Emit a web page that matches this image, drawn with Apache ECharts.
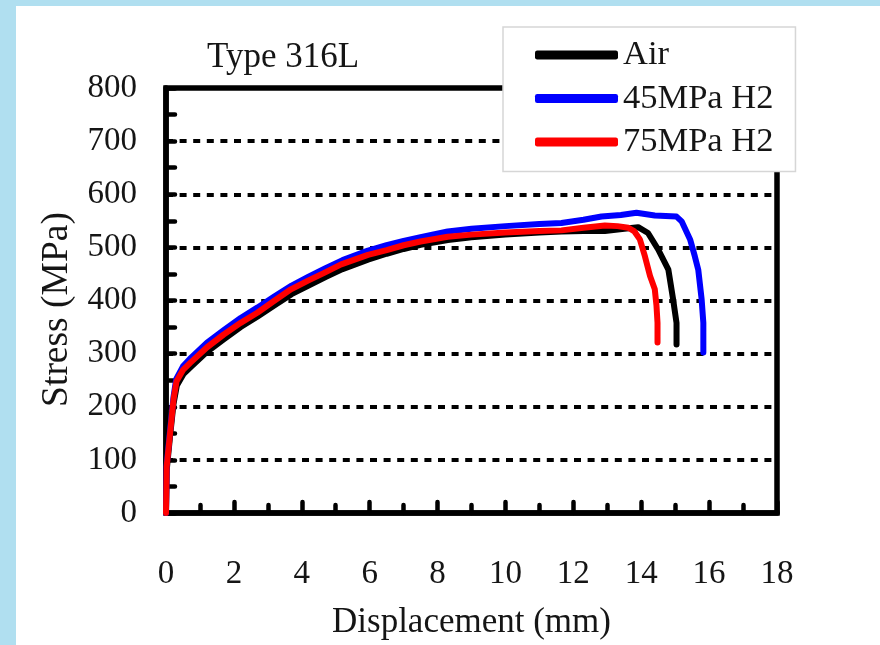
<!DOCTYPE html>
<html>
<head>
<meta charset="utf-8">
<script src="https://cdn.jsdelivr.net/npm/echarts@6/dist/echarts.min.js"></script>
<style>
  html, body { margin: 0; padding: 0; }
  body { width: 880px; height: 645px; background: #b0dff0; position: relative; overflow: hidden; }
  #sheet { position: absolute; left: 16px; top: 6px; width: 864px; height: 639px; background: #ffffff; }
  #chart { position: absolute; left: 0; top: 0; width: 880px; height: 645px; }
</style>
</head>
<body>
<div id="sheet"></div>
<div id="chart"></div>
<script>
// Tensile curves of Type 316L: [displacement (mm), stress (MPa)]
const seriesNames = ['Air', '45MPa H2', '75MPa H2'];
const seriesColors = ['#000000', '#0000ff', '#ff0000'];

const airCurve = [
  [0, 0], [0.02, 80], [0.12, 145], [0.22, 205], [0.32, 240], [0.52, 262], [0.75, 276],
  [1.2, 303], [1.7, 327], [2.2, 350], [2.7, 370], [3.2, 391], [3.7, 412], [4.2, 428],
  [4.7, 444], [5.2, 459], [5.95, 477], [6.5, 488], [7, 497], [7.5, 505], [8.3, 514],
  [9, 519], [10, 524], [11, 528], [11.65, 530], [12.3, 531], [12.93, 531], [13.5, 535],
  [13.91, 538], [14.2, 527], [14.5, 496], [14.8, 458], [14.94, 402], [15.04, 358], [15.04, 317]
];

const h2At45Curve = [
  [0, 0], [0.02, 90], [0.12, 155], [0.22, 218], [0.3, 252], [0.5, 276], [0.7, 290],
  [1.2, 320], [1.7, 344], [2.2, 367], [2.7, 387], [3.2, 408], [3.7, 428], [4.2, 445],
  [4.7, 461], [5.2, 476], [5.95, 494], [6.5, 504], [7, 512], [7.5, 519], [8.3, 530],
  [9, 535], [10, 540], [11, 544], [11.65, 546], [12.3, 552], [12.83, 558], [13.4, 561],
  [13.86, 565], [14.4, 560], [15.04, 558], [15.19, 549], [15.44, 515], [15.58, 483],
  [15.68, 458], [15.78, 402], [15.83, 358], [15.83, 302]
];

const h2At75Curve = [
  [0, 0], [0.02, 87], [0.12, 150], [0.22, 213], [0.31, 248], [0.51, 270], [0.72, 283],
  [1.21, 312], [1.7, 336], [2.2, 358], [2.69, 377], [3.18, 399], [3.68, 421], [4.17, 437],
  [4.66, 452], [5.16, 468], [5.95, 486], [6.5, 495], [7, 504], [7.5, 511], [8.3, 520],
  [9, 524], [10, 528], [11, 531], [11.65, 532], [12.3, 537], [12.93, 541], [13.3, 540],
  [13.62, 537], [13.8, 530], [13.96, 515], [14.11, 483], [14.26, 446], [14.4, 421],
  [14.45, 390], [14.48, 358], [14.48, 321]
];

const curves = [airCurve, h2At45Curve, h2At75Curve];

const xTicks = { min: 0, max: 18, step: 2 };
const yTicks = { min: 0, max: 800, step: 100 };

const serif = '"Liberation Serif", "Times New Roman", serif';
const ink = '#151515';

const chart = echarts.init(document.getElementById('chart'), null, { renderer: 'canvas' });

const tickStyle = { color: '#000', width: 4.5, cap: 'round' };

chart.setOption({
  animation: false,
  backgroundColor: 'transparent',
  color: seriesColors,
  title: {
    text: 'Type 316L',
    left: 207,
    top: 40,
    padding: 0,
    textStyle: { fontFamily: serif, fontSize: 35, fontWeight: 'normal', color: ink }
  },
  legend: {
    data: seriesNames.map(n => ({ name: n, icon: 'roundRect' })),
    orient: 'vertical',
    left: 503,
    top: 27,
    padding: [10.5, 22, 12, 32],
    itemWidth: 83,
    itemHeight: 9,
    itemGap: 8.5,
    backgroundColor: '#ffffff',
    borderColor: '#d6d6d6',
    borderWidth: 1.5,
    borderRadius: 0,
    selectedMode: false,
    textStyle: { fontFamily: serif, fontSize: 34.5, lineHeight: 33, color: ink },
    z: 10
  },
  grid: {
    left: 166,
    right: 103,
    top: 88,
    bottom: 132,
    show: true,
    borderColor: '#000',
    borderWidth: 5.5,
    backgroundColor: 'transparent'
  },
  xAxis: {
    type: 'value',
    min: xTicks.min,
    max: xTicks.max,
    interval: xTicks.step,
    name: 'Displacement (mm)',
    nameLocation: 'middle',
    nameGap: 92,
    nameTextStyle: { fontFamily: serif, fontSize: 35, color: ink },
    axisLine: { show: true, lineStyle: { color: '#000', width: 5.5 } },
    axisTick: { show: true, inside: true, length: 11, lineStyle: tickStyle },
    minorTick: { show: true, splitNumber: 2, length: 8, lineStyle: tickStyle },
    axisLabel: { margin: 45, fontFamily: serif, fontSize: 33, color: ink },
    splitLine: { show: false }
  },
  yAxis: {
    type: 'value',
    min: yTicks.min,
    max: yTicks.max,
    interval: yTicks.step,
    name: 'Stress (MPa)',
    nameLocation: 'middle',
    nameGap: 89,
    nameTextStyle: { fontFamily: serif, fontSize: 37.5, color: ink, padding: [0, 18, 0, 0] },
    axisLine: { show: true, lineStyle: { color: '#000', width: 5.5 } },
    axisTick: { show: true, inside: true, length: 9, lineStyle: tickStyle },
    minorTick: { show: true, splitNumber: 2, length: 9, lineStyle: tickStyle },
    axisLabel: { margin: 29, fontFamily: serif, fontSize: 33, color: ink },
    splitLine: { show: true, lineStyle: { color: '#000', width: 4, type: [7, 6.6] } }
  },
  series: curves.map((curve, i) => ({
    name: seriesNames[i],
    type: 'line',
    data: curve,
    showSymbol: false,
    symbol: 'none',
    smooth: false,
    lineStyle: { width: 6, color: seriesColors[i], cap: 'round', join: 'round' },
    itemStyle: { color: seriesColors[i] },
    z: 3 + i
  }))
});
</script>
</body>
</html>
